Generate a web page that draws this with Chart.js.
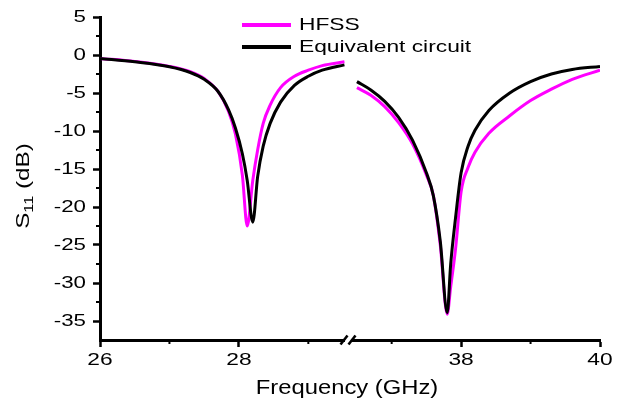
<!DOCTYPE html>
<html>
<head>
<meta charset="utf-8">
<script src="https://cdn.jsdelivr.net/npm/chart.js@4"></script>
<style>
    html, body { margin: 0; padding: 0; background: #fff; }
    #wrap { width: 623px; height: 405px; }
</style>
</head>
<body>
<div id="wrap"><canvas id="s11Chart" width="623" height="405"></canvas></div>
<script>
// ---- data ----
const FREQ_LOW    = [26.0, 26.5, 27.0, 27.3, 27.5, 27.7, 27.85, 27.95, 28.05, 28.12, 28.2, 28.27, 28.35, 28.45, 28.6, 28.8, 29.0, 29.2, 29.52];
const HFSS_LOW    = [-0.45, -0.85, -1.5, -2.2, -3.1, -4.8, -7.4, -10.4, -15.8, -22.5, -16.5, -12.5, -9.0, -6.6, -4.3, -2.8, -2.0, -1.4, -0.9];
const CIRCUIT_LOW = [-0.45, -0.9, -1.55, -2.3, -3.2, -4.8, -7.2, -9.6, -13.0, -16.5, -22.0, -16.0, -12.0, -9.0, -6.2, -4.0, -2.8, -2.0, -1.3];

const FREQ_HIGH    = [36.5, 36.7, 36.9, 37.1, 37.3, 37.5, 37.6, 37.7, 37.8, 37.85, 37.92, 38.0, 38.1, 38.2, 38.4, 38.7, 39.0, 39.3, 39.6, 40.0];
const HFSS_HIGH    = [-4.3, -5.3, -6.8, -8.9, -11.7, -15.8, -18.5, -25.0, -34.1, -30.5, -25.5, -18.0, -14.8, -12.8, -10.3, -8.0, -6.0, -4.5, -3.2, -2.0];
const CIRCUIT_HIGH = [-3.5, -4.6, -6.1, -8.2, -11.2, -15.5, -18.5, -24.5, -33.9, -27.5, -21.4, -15.5, -12.0, -9.9, -7.3, -5.0, -3.5, -2.5, -1.9, -1.5];

const X_MAJOR = [26, 28, 38, 40];
const X_MINOR = [27, 29, 37, 39];
const Y_MAJOR = [5, 0, -5, -10, -15, -20, -25, -30, -35];
const Y_MINOR = [2.5, -2.5, -7.5, -12.5, -17.5, -22.5, -27.5, -32.5];

// broken frequency axis
const BREAK_LOW  = 29.6;
const BREAK_HIGH = 36.4;
const GAP = BREAK_HIGH - BREAK_LOW;
const toAxis   = f => (f >= BREAK_HIGH ? f - GAP : f);
const fromAxis = v => (v > BREAK_LOW + 1e-6 ? v + GAP : v);

function buildSeries(lowVals, highVals) {
    return FREQ_LOW.map((f, i) => ({ x: toAxis(f), y: lowVals[i] }))
        .concat([{ x: BREAK_LOW, y: null }])
        .concat(FREQ_HIGH.map((f, i) => ({ x: toAxis(f), y: highVals[i] })));
}

const FONT = '"Liberation Sans", Arial, Helvetica, sans-serif';

// text in the reference is noticeably wide, so stretch it along its reading direction
function wideText(ctx, text, x, y, size, sx, align, rotate) {
    ctx.save();
    ctx.translate(x, y);
    if (rotate) ctx.rotate(rotate);
    ctx.scale(sx, 1);
    ctx.font = size + 'px ' + FONT;
    ctx.fillStyle = '#000';
    ctx.textAlign = align || 'left';
    ctx.textBaseline = 'middle';
    ctx.fillText(text, 0, 0);
    ctx.restore();
}

const decorPlugin = {
    id: 'decor',
    afterDraw(chart) {
        const ctx = chart.ctx;
        const xs = chart.scales.x, ys = chart.scales.y;
        const area = chart.chartArea;

        // minor ticks
        ctx.save();
        ctx.strokeStyle = '#000';
        ctx.lineWidth = 2;
        X_MINOR.forEach(f => {
            const px = xs.getPixelForValue(toAxis(f));
            ctx.beginPath(); ctx.moveTo(px, area.bottom); ctx.lineTo(px, area.bottom + 4); ctx.stroke();
        });
        Y_MINOR.forEach(v => {
            const py = ys.getPixelForValue(v);
            ctx.beginPath(); ctx.moveTo(area.left, py); ctx.lineTo(area.left - 4, py); ctx.stroke();
        });

        // axis break marks
        const bx = xs.getPixelForValue(BREAK_LOW) - 2;
        const by = area.bottom;
        ctx.fillStyle = '#fff';
        ctx.fillRect(bx - 3, by - 3, 6, 6);
        ctx.lineWidth = 2.6;
        [-4, 4].forEach(d => {
            ctx.beginPath();
            ctx.moveTo(bx + d - 3.5, by + 4.5);
            ctx.lineTo(bx + d + 3.5, by - 4.5);
            ctx.stroke();
        });
        ctx.restore();

        // tick labels
        xs.ticks.forEach(t => {
            wideText(ctx, String(Math.round(fromAxis(t.value))), xs.getPixelForValue(t.value), area.bottom + 20, 16.5, 1.38, 'center');
        });
        ys.ticks.forEach(t => {
            wideText(ctx, String(t.value), area.left - 14, ys.getPixelForValue(t.value), 16.5, 1.35, 'right');
        });

        // axis titles
        wideText(ctx, 'Frequency (GHz)', 347, 389, 19.5, 1.22, 'center');

        ctx.save();
        ctx.translate(22, 186);
        ctx.rotate(-Math.PI / 2);
        ctx.scale(1.35, 1);
        ctx.fillStyle = '#000';
        ctx.textBaseline = 'alphabetic';
        ctx.textAlign = 'left';
        const big = '18px ' + FONT, small = '12px ' + FONT;
        ctx.font = big;   const w1 = ctx.measureText('S').width, w3 = ctx.measureText(' (dB)').width;
        ctx.font = small; const w2 = ctx.measureText('11').width;
        let cx = -(w1 + w2 + w3) / 2;
        ctx.font = big;   ctx.fillText('S', cx, 6.5); cx += w1;
        ctx.font = small; ctx.fillText('11', cx, 10.5); cx += w2;
        ctx.font = big;   ctx.fillText(' (dB)', cx, 6.5);
        ctx.restore();

        // legend
        const rows = [25, 47];
        chart.data.datasets.forEach((ds, i) => {
            ctx.save();
            ctx.strokeStyle = ds.borderColor;
            ctx.lineWidth = 4;
            ctx.beginPath(); ctx.moveTo(242, rows[i]); ctx.lineTo(291, rows[i]); ctx.stroke();
            ctx.restore();
            wideText(ctx, ds.label, 299, rows[i], 17, 1.34, 'left');
        });
    }
};

new Chart(document.getElementById('s11Chart'), {
    type: 'line',
    data: {
        datasets: [
            {
                label: 'HFSS',
                data: buildSeries(HFSS_LOW, HFSS_HIGH),
                borderColor: '#ff00ff',
                borderWidth: 3,
                pointRadius: 0,
                cubicInterpolationMode: 'monotone',
                spanGaps: false,
                order: 2,
            },
            {
                label: 'Equivalent circuit',
                data: buildSeries(CIRCUIT_LOW, CIRCUIT_HIGH),
                borderColor: '#000000',
                borderWidth: 3,
                pointRadius: 0,
                cubicInterpolationMode: 'monotone',
                spanGaps: false,
                order: 1,
            }
        ]
    },
    options: {
        responsive: false,
        animation: false,
        layout: { padding: { top: 17, right: 23, left: 0, bottom: 0 } },
        plugins: { legend: { display: false }, tooltip: { enabled: false } },
        scales: {
            x: {
                type: 'linear',
                min: 26,
                max: toAxis(40),
                afterBuildTicks: scale => { scale.ticks = X_MAJOR.map(f => ({ value: toAxis(f) })); },
                afterFit: scale => { scale.height = 65; },
                ticks: { display: false },
                grid: { drawOnChartArea: false, drawTicks: true, tickLength: 7, tickWidth: 2.5, tickColor: '#000' },
                border: { display: true, color: '#000', width: 3 },
            },
            y: {
                type: 'linear',
                min: -37.5,
                max: 5,
                afterBuildTicks: scale => { scale.ticks = Y_MAJOR.map(v => ({ value: v })); },
                afterFit: scale => { scale.width = 100; },
                ticks: { display: false },
                grid: { drawOnChartArea: false, drawTicks: true, tickLength: 7, tickWidth: 2.5, tickColor: '#000' },
                border: { display: true, color: '#000', width: 3 },
            }
        }
    },
    plugins: [decorPlugin]
});
</script>
</body>
</html>
